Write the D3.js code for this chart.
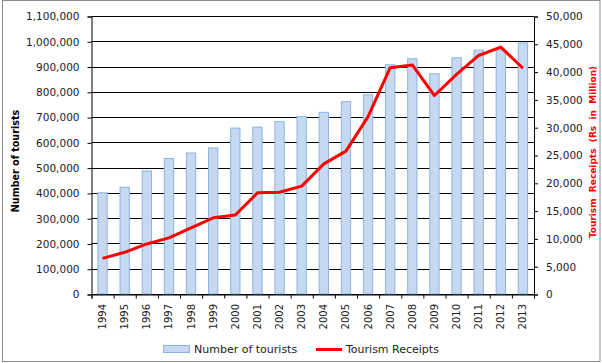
<!DOCTYPE html>
<html>
<head>
<meta charset="utf-8">
<script src="https://cdn.jsdelivr.net/npm/d3@7"></script>
<style>
  body { margin: 0; background: white; }
  svg { display: block; font-family: "DejaVu Sans", sans-serif; }
</style>
</head>
<body>
<div id="chart"></div>
<script>
// Data
const years = ["1994","1995","1996","1997","1998","1999","2000","2001","2002","2003",
               "2004","2005","2006","2007","2008","2009","2010","2011","2012","2013"];
const tourists = [400500, 422500, 487000, 536000, 558000, 578000, 656500, 660300, 681600, 702000,
                  718900, 761000, 788300, 907000, 930500, 871400, 934800, 964600, 965400, 993100];
const receipts = [6400, 7500, 9000, 10100, 11900, 13700, 14200, 18200, 18300, 19400,
                  23400, 25700, 31900, 40700, 41200, 35700, 39500, 42900, 44400, 40600];
const leftTicks = d3.range(0, 1100001, 100000);
const rightTicks = d3.range(0, 50001, 5000);

// Chart dimensions
const width = 602;
const height = 363;
const plotLeft = 91.5;
const plotRight = 534;
const plotTop = 16;
const plotBottom = 294;

const svg = d3.select("#chart").append("svg")
    .attr("width", width)
    .attr("height", height);

// outer frame
svg.append("rect")
    .attr("x", 2.5).attr("y", 0.5)
    .attr("width", 597.5).attr("height", 361)
    .attr("fill", "white")
    .attr("stroke", "#8c8c8c");

// scales
const x = d3.scaleBand().domain(years).range([plotLeft, plotRight]).padding(0);
const xEdge = d3.scaleLinear().domain([0, years.length]).range([plotLeft, plotRight]);
const yLeft = d3.scaleLinear().domain([0, 1100000]).range([plotBottom, plotTop]);
const yRight = d3.scaleLinear().domain([0, 50000]).range([plotBottom, plotTop]);

// gridlines
svg.append("g")
    .selectAll("line")
    .data(leftTicks)
    .join("line")
    .attr("x1", plotLeft).attr("x2", plotRight)
    .attr("y1", d => Math.round(yLeft(d)) + 0.5)
    .attr("y2", d => Math.round(yLeft(d)) + 0.5)
    .attr("stroke", "black")
    .attr("stroke-width", 1);

// bars
const barW = x.bandwidth() * 0.42;
svg.append("g")
    .selectAll("rect")
    .data(years)
    .join("rect")
    .attr("x", (d, i) => x(d) + (x.bandwidth() - barW) / 2)
    .attr("y", (d, i) => yLeft(tourists[i]))
    .attr("width", barW)
    .attr("height", (d, i) => plotBottom - yLeft(tourists[i]))
    .attr("fill", "#c6d9f1")
    .attr("stroke", "#8db3e2")
    .attr("stroke-width", 1);

// left axis
const leftAxis = svg.append("g")
    .attr("transform", `translate(${plotLeft},0.5)`)
    .call(d3.axisLeft(yLeft).tickValues(leftTicks).tickSize(4).tickPadding(8)
        .tickFormat(d3.format(",")));
leftAxis.select(".domain").attr("stroke", "black");
leftAxis.selectAll(".tick line").attr("stroke", "black");
leftAxis.selectAll("text")
    .attr("font-size", "10.5px")
    .attr("font-family", "DejaVu Sans, sans-serif")
    .attr("fill", "#222");

// right axis
const rightAxis = svg.append("g")
    .attr("transform", `translate(${plotRight},0.5)`)
    .call(d3.axisRight(yRight).tickValues(rightTicks).tickSize(4).tickPadding(8)
        .tickFormat(d3.format(",")));
rightAxis.select(".domain").attr("stroke", "black");
rightAxis.selectAll(".tick line").attr("stroke", "black");
rightAxis.selectAll("text")
    .attr("font-size", "10.5px")
    .attr("font-family", "DejaVu Sans, sans-serif")
    .attr("fill", "#222");

// bottom axis: tick marks at category edges
const edgeAxis = svg.append("g")
    .attr("transform", `translate(0,${plotBottom + 0.5})`)
    .call(d3.axisBottom(xEdge).tickValues(d3.range(0, years.length + 1)).tickSize(4).tickFormat(""));
edgeAxis.select(".domain").attr("stroke", "black");
edgeAxis.selectAll(".tick line").attr("stroke", "black");

// year labels, rotated
svg.append("g")
    .selectAll("text")
    .data(years)
    .join("text")
    .attr("transform", d => `translate(${x(d) + x.bandwidth() / 2},304) rotate(-90)`)
    .attr("text-anchor", "end")
    .attr("dy", "0.35em")
    .attr("font-size", "10px")
    .attr("fill", "#222")
    .text(d => d);

// receipts line
const line = d3.line()
    .x((d, i) => x(years[i]) + x.bandwidth() / 2)
    .y(d => yRight(d));
svg.append("path")
    .datum(receipts)
    .attr("d", line)
    .attr("fill", "none")
    .attr("stroke", "#ff0000")
    .attr("stroke-width", 3)
    .attr("stroke-linejoin", "round");

// axis titles
svg.append("text")
    .attr("transform", "translate(19,161) rotate(-90)")
    .attr("text-anchor", "middle")
    .attr("font-size", "9.6px")
    .attr("font-weight", "bold")
    .attr("fill", "black")
    .text("Number of tourists");

svg.append("text")
    .attr("transform", "translate(596,152) rotate(-90)")
    .attr("text-anchor", "middle")
    .attr("font-size", "9px")
    .attr("font-weight", "bold")
    .attr("fill", "#ff0000")
    .attr("xml:space", "preserve")
    .style("white-space", "pre")
    .text("Tourism  Receipts  (Rs  in  Million)");

// legend
const legend = svg.append("g");
legend.append("rect")
    .attr("x", 163.5).attr("y", 345.5)
    .attr("width", 26).attr("height", 7)
    .attr("fill", "#c6d9f1")
    .attr("stroke", "#8db3e2");
legend.append("text")
    .attr("x", 194).attr("y", 353)
    .attr("font-size", "11px")
    .attr("fill", "#222")
    .text("Number of tourists");
legend.append("line")
    .attr("x1", 316).attr("x2", 342)
    .attr("y1", 349.5).attr("y2", 349.5)
    .attr("stroke", "#ff0000")
    .attr("stroke-width", 3);
legend.append("text")
    .attr("x", 346).attr("y", 353)
    .attr("font-size", "11px")
    .attr("fill", "#222")
    .text("Tourism Receipts");
</script>
</body>
</html>
